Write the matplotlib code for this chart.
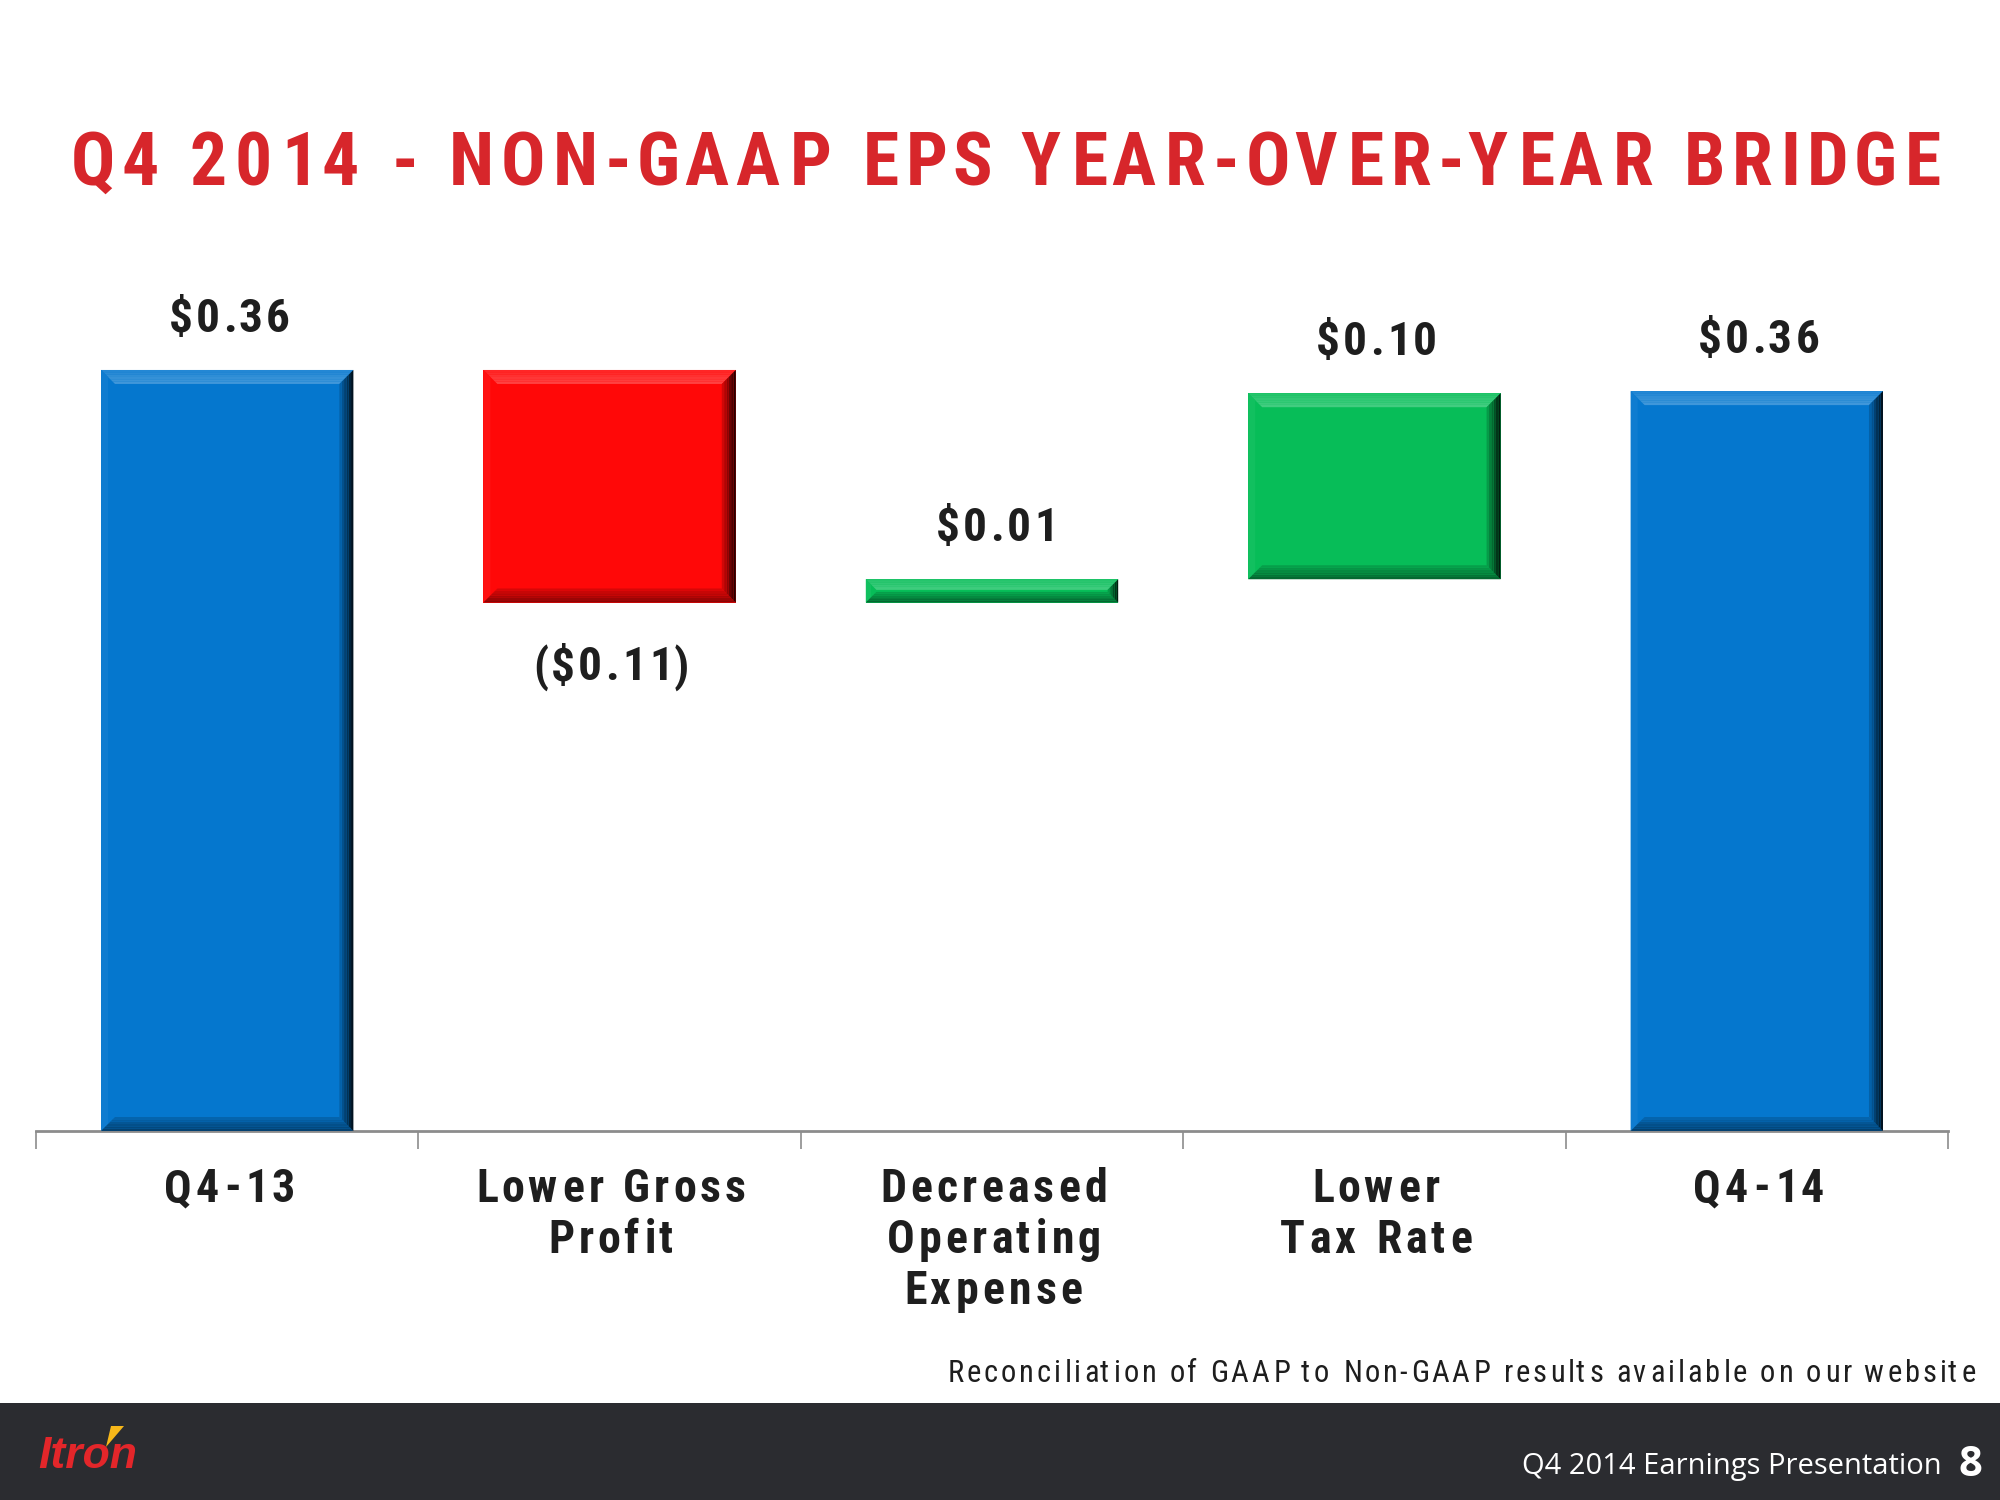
import numpy as np
import matplotlib
matplotlib.use("Agg")
import matplotlib.pyplot as plt
import matplotlib.colors as mcolors
from matplotlib import font_manager as fm
from matplotlib.patches import Polygon, Rectangle
from matplotlib.transforms import IdentityTransform

# ==========================================================
# Data
# ==========================================================

categories = [
    ["Q4-13"],
    ["Lower Gross", "Profit"],
    ["Decreased", "Operating", "Expense"],
    ["Lower", "Tax Rate"],
    ["Q4-14"],
]
values = [0.36, -0.11, 0.011, 0.088, 0.35]
kinds = ["total", "delta", "delta", "delta", "total"]
value_labels = ["$0.36", "($0.11)", "$0.01", "$0.10", "$0.36"]

TITLE = "Q4 2014 - NON-GAAP EPS YEAR-OVER-YEAR BRIDGE"
FOOTNOTE = "Reconciliation of GAAP to Non-GAAP results available on our website"
FOOTER = "Q4 2014 Earnings Presentation"
PAGE = "8"

# ==========================================================
# Style
# ==========================================================

W, H, DPI = 2000, 1500, 100

BLUE = "#0577CE"
RED = "#FF0808"
GREEN = "#07BD58"
TITLE_RED = "#D7262B"
TEXT = "#1E1E1E"


def _wt(w):
    if isinstance(w, str):
        return {"bold": 700, "normal": 400, "regular": 400}.get(w, 400)
    return w


def pick(cands, bold=False, fallback="Liberation Sans"):
    for c in cands:
        ws = [_wt(f.weight) for f in fm.fontManager.ttflist
              if f.name == c and f.style == "normal"]
        if not ws:
            continue
        if bold and max(ws) < 650:
            continue
        if not bold and min(ws) > 450:
            continue
        return c
    return fallback


NARROW_CANDS = ["Liberation Sans Narrow", "Arial Narrow", "Roboto Condensed",
                "Archivo Narrow", "Sofia Sans Condensed", "Encode Sans Condensed",
                "IBM Plex Sans Condensed", "Barlow Condensed", "PT Sans Narrow"]
NARROW_BOLD = pick(NARROW_CANDS, bold=True)
NARROW_REG = pick(NARROW_CANDS, bold=False)


def mix(c, other, t):
    a = np.array(mcolors.to_rgb(c))
    b = np.array(mcolors.to_rgb(other))
    return tuple(a * (1 - t) + b * t)


def glyphs(s, prop):
    """(advance, left bearing, ink width) in pixels for each character."""
    font = fm.get_font(fm.findfont(prop))
    font.set_size(prop.get_size_in_points(), DPI)
    out = []
    for ch in s:
        g = font.load_char(ord(ch))
        out.append((g.linearHoriAdvance / 65536, g.horiBearingX / 64, g.width / 64))
    return out


def ink_span(gl, track):
    start = gl[0][1]
    end = sum(a for a, _, _ in gl[:-1]) + track * (len(gl) - 1) + gl[-1][1] + gl[-1][2]
    return start, end


def fit_track(s, prop, width):
    gl = glyphs(s, prop)
    st, en = ink_span(gl, 0.0)
    return (width - (en - st)) / (len(s) - 1)


def tracked(fig, x, y, s, prop, color, track=0.0, width=None, ha="center"):
    """Draw text letter by letter; x, y in pixels from top-left, y = baseline."""
    gl = glyphs(s, prop)
    if width is not None and len(s) > 1:
        track = fit_track(s, prop, width)
    st, en = ink_span(gl, track)
    if ha == "center":
        x0 = x - (st + en) / 2
    elif ha == "right":
        x0 = x - en
    else:
        x0 = x - st
    for ch, (a, bx, _) in zip(s, gl):
        if ch != " ":
            fig.text((x0 + bx) / W, 1 - y / H, ch, fontproperties=prop,
                     color=color, ha="left", va="baseline")
        x0 += a + track


def bevel(fig, ax, xc, lo, hi, w, base):
    (x0, y0) = ax.transData.transform((xc - w / 2, lo))
    (x1, y1) = ax.transData.transform((xc + w / 2, hi))
    b = min(14, (y1 - y0) / 2.2)
    tr = IdentityTransform()

    def poly(pts, col):
        fig.add_artist(Polygon(pts, closed=True, transform=tr,
                               facecolor=col, edgecolor="none"))

    n = 6
    # top light band, graded
    for i in range(n):
        t0 = b * i / n
        t1 = b * (i + 1) / n
        poly([(x0 + t0, y1 - t0), (x1 - t0, y1 - t0), (x1 - t1, y1 - t1), (x0 + t1, y1 - t1)],
             mix(base, "white", 0.12 + 0.14 * i / n))
    # left subtle band
    poly([(x0, y0), (x0, y1), (x0 + b * 0.5, y1 - b * 0.5), (x0 + b * 0.5, y0 + b * 0.5)],
         mix(base, "white", 0.04))
    # bottom dark band, graded
    for i in range(n):
        t0 = b * i / n
        t1 = b * (i + 1) / n
        poly([(x0 + t0, y0 + t0), (x1 - t0, y0 + t0), (x1 - t1, y0 + t1), (x0 + t1, y0 + t1)],
             mix(base, "black", 0.45 - 0.35 * i / n))
    # right dark band, graded
    for i in range(n):
        t0 = b * i / n
        t1 = b * (i + 1) / n
        poly([(x1 - t0, y1 - t0), (x1 - t0, y0 + t0), (x1 - t1, y0 + t1), (x1 - t1, y1 - t1)],
             mix(base, "black", 0.85 - 0.8 * i / n))


# ==========================================================
# Figure
# ==========================================================

fig = plt.figure(figsize=(W / DPI, H / DPI), dpi=DPI)
fig.patch.set_facecolor("white")

ax = fig.add_axes([36 / W, 369 / H, 1912 / W, 1057 / H])
ax.set_xlim(-0.5, 4.5)
ax.set_ylim(0, 0.5)
ax.patch.set_alpha(0)

for s in ["top", "left", "right"]:
    ax.spines[s].set_visible(False)
ax.spines["bottom"].set_color("#8C8C8C")
ax.spines["bottom"].set_linewidth(2)
ax.set_yticks([])
ax.set_xticks([])
ax.set_xticks(np.arange(-0.5, 5.0, 1.0), minor=True)
ax.tick_params(axis="x", which="minor", length=13, width=1.2,
               color="#8C8C8C", direction="out")

# waterfall bars
x = np.arange(len(values))
bar_w = 0.66
lows, highs, colors = [], [], []
running = 0.0
for v, k in zip(values, kinds):
    if k == "total":
        lo, hi = 0.0, v
        running = v
        col = BLUE
    else:
        start = running
        running = running + v
        lo, hi = min(start, running), max(start, running)
        col = GREEN if v > 0 else RED
    lows.append(lo)
    highs.append(hi)
    colors.append(col)

ax.bar(x, np.array(highs) - np.array(lows), bottom=lows, width=bar_w,
       color=colors, edgecolor="none", zorder=2)

for xi, lo, hi, col in zip(x, lows, highs, colors):
    bevel(fig, ax, xi, lo, hi, bar_w, col)

# value labels
lab_prop = fm.FontProperties(family=NARROW_BOLD, weight="bold", size=34)
lab_track = fit_track("$0.36", lab_prop, 117)
for xi, lo, hi, v, k, lab in zip(x, lows, highs, values, kinds, value_labels):
    px, py_top = ax.transData.transform((xi, hi))
    _, py_lo = ax.transData.transform((xi, lo))
    if k == "delta" and v < 0:
        y = H - py_lo + 78
    else:
        y = H - py_top - 38
    tracked(fig, px, y, lab, lab_prop, TEXT, track=lab_track)

# category labels
cat_prop = fm.FontProperties(family=NARROW_BOLD, weight="bold", size=33)
cat_track = fit_track("Lower Gross", cat_prop, 267)
for xi, lines in zip(x, categories):
    px, _ = ax.transData.transform((xi, 0))
    for j, line in enumerate(lines):
        tracked(fig, px, 1202 + 51 * j, line, cat_prop, TEXT, track=cat_track)

# title
title_prop = fm.FontProperties(family=NARROW_BOLD, weight="bold", size=53)
tracked(fig, 71, 185, TITLE, title_prop, TITLE_RED, width=1864, ha="left")

# footnote
note_prop = fm.FontProperties(family=NARROW_REG, size=22)
tracked(fig, 1973, 1382, FOOTNOTE, note_prop, TEXT, width=1025, ha="right")

# footer band
fig.add_artist(Rectangle((0, 0), 1, 97 / H, transform=fig.transFigure,
                         facecolor="#2B2C30", edgecolor="none"))

logo_prop = fm.FontProperties(family="Liberation Sans", weight="bold",
                              style="italic", size=32)
fig.text(38 / W, 1 - 1468 / H, "Itron", fontproperties=logo_prop,
         color="#E3262A", ha="left", va="baseline")
fig.add_artist(Polygon([(111, H - 1426), (124, H - 1426), (106, H - 1447)],
                       closed=True, transform=IdentityTransform(),
                       facecolor="#F7B719", edgecolor="none"))

fig.text(1942 / W, 1 - 1474 / H, FOOTER, fontsize=21, family="Open Sans",
         color="white", ha="right", va="baseline")
fig.text(1982 / W, 1 - 1476 / H, PAGE, fontsize=30, family="Open Sans",
         weight="bold", color="white", ha="right", va="baseline")

fig.savefig("out.png", dpi=DPI, facecolor="white")
